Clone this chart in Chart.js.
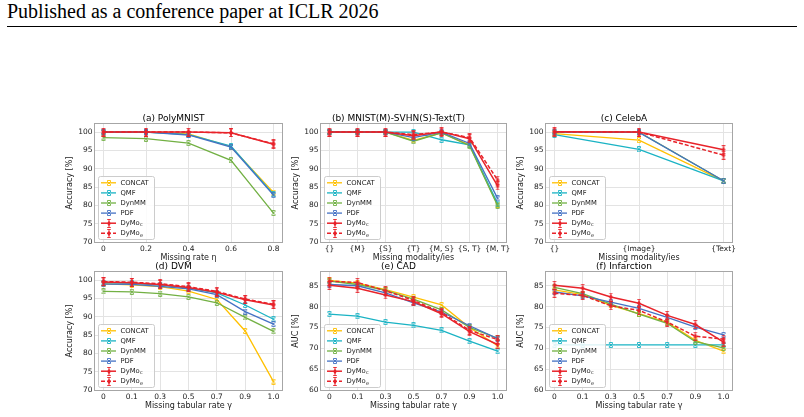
<!DOCTYPE html>
<html><head><meta charset="utf-8">
<script src="https://cdn.jsdelivr.net/npm/chart.js@4.4.1/dist/chart.umd.min.js"></script>
<style>
body{margin:0;background:#fff;width:804px;height:417px;overflow:hidden;position:relative;font-family:"DejaVu Sans";}
#hdr{position:absolute;left:7px;top:1px;font-family:"Liberation Serif";font-size:20px;line-height:20px;color:#000;white-space:nowrap;}
#rule{position:absolute;left:7px;top:26px;width:790px;height:0;border-top:1px solid #000;}
.cv{position:absolute;}
</style></head><body>
<div id="hdr">Published as a conference paper at ICLR 2026</div>
<div id="rule"></div>
<script>
// ---------- data ----------
const seriesNames = ['CONCAT','QMF','DynMM','PDF','DyMo_c','DyMo_e'];
const xLabelsA = ['0','0.2','0.4','0.6','0.8'];
const xLabelsB = ['{}','{M}','{S}','{T}','{M, S}','{S, T}','{M, T}'];
const xLabelsC = ['{}','{Image}','{Text}'];
const xLabelsTab = ['0','0.1','0.3','0.5','0.7','0.9','1.0'];

// (a) PolyMNIST
const polyCONCAT = [100,100,99.5,96.0,83.5];
const polyQMF    = [100,100,99.3,96.2,83.0];
const polyDynMM  = [98.5,98.2,97.0,92.3,77.9];
const polyPDF    = [100,100,99.2,95.9,82.8];
const polyDyMoC  = [100,100,100,99.8,96.7];
const polyDyMoE  = [100,100,100,99.8,96.8];
// (b) MNIST-SVHN-Text
const mstCONCAT = [100,100,100,97.7,99.8,96.5,80.2];
const mstQMF    = [100,100,100,100,97.9,96.5,80.5];
const mstDynMM  = [100,100,100,97.5,99.8,96.3,79.9];
const mstPDF    = [100,100,100,98.5,100,96.9,81.9];
const mstDyMoC  = [100,100,100,99.0,100.1,98.2,85.3];
const mstDyMoE  = [100,100,100,99.3,100,98.5,86.9];
// (c) CelebA
const celebCONCAT = [99.6,97.8,86.7];
const celebQMF    = [99.3,95.3,86.7];
const celebDynMM  = [100,100,86.7];
const celebPDF    = [100,99.9,86.7];
const celebDyMoC  = [100.1,100,95.2];
const celebDyMoE  = [100,100,93.7];
// (d) DVM
const dvmCONCAT = [99.0,98.7,98.2,97.0,94.7,86.1,72.3];
const dvmQMF    = [99.3,99.1,98.6,97.8,96.5,93.2,89.3];
const dvmDynMM  = [96.9,96.8,96.3,95.4,93.8,89.8,86.0];
const dvmPDF    = [98.9,98.8,98.3,97.6,96.0,91.4,88.0];
const dvmDyMoC  = [99.5,99.3,98.8,98.0,96.7,94.6,93.2];
const dvmDyMoE  = [99.6,99.4,99.0,98.2,96.9,94.8,93.4];
// (e) CAD
const cadCONCAT = [86.3,85.6,84.1,82.3,80.4,75.0,70.6];
const cadQMF    = [78.2,77.7,76.3,75.5,74.3,71.7,69.3];
const cadDynMM  = [86.1,85.3,83.9,81.8,79.2,75.0,72.4];
const cadPDF    = [85.3,85.0,83.3,80.9,78.7,75.4,72.3];
const cadDyMoC  = [85.1,84.4,82.8,81.2,78.3,74.0,70.9];
const cadDyMoE  = [86.1,85.8,83.8,81.5,78.6,74.3,72.1];
// (f) Infarction
const infCONCAT = [84.0,82.9,80.3,78.3,76.2,71.9,69.3];
const infQMF    = [70.8,70.8,70.8,70.8,70.8,70.8,70.8];
const infDynMM  = [84.6,83.1,80.6,78.2,76.0,71.6,70.1];
const infPDF    = [83.5,82.6,81.1,79.6,77.4,75.1,73.2];
const infDyMoC  = [85.1,84.4,82.3,80.8,77.9,75.7,71.5];
const infDyMoE  = [83.2,82.7,80.2,79.1,76.3,72.9,72.2];

// ---------- styling ----------
const colors = ['#FFC000','#1AB3C4','#72B043','#4472C4','#E8232A','#E8232A'];
const FONT = 'DejaVu Sans';

function mk(kind,color){
  const c=document.createElement('canvas');
  const g=c.getContext('2d');
  if(kind==='x'){
    c.width=6;c.height=6;
    g.strokeStyle=color;g.lineWidth=0.9;g.beginPath();
    g.moveTo(1,1);g.lineTo(5,5);g.moveTo(5,1);g.lineTo(1,5);
    g.moveTo(1.2,0.5);g.lineTo(4.8,0.5);g.moveTo(1.2,5.5);g.lineTo(4.8,5.5);
    g.stroke();
  } else {
    c.width=6;c.height=9;
    g.fillStyle=color;g.beginPath();
    g.moveTo(3,1.8);g.lineTo(4.9,4.5);g.lineTo(3,7.2);g.lineTo(1.1,4.5);g.closePath();g.fill();
    g.strokeStyle=color;g.lineWidth=0.9;g.beginPath();
    g.moveTo(3,0.5);g.lineTo(3,8.5);
    g.moveTo(1.2,0.5);g.lineTo(4.8,0.5);g.moveTo(1.2,8.5);g.lineTo(4.8,8.5);
    g.stroke();
  }
  return c;
}
const markers = colors.map((c,i)=>mk(i>=4?'d':'x',c));

const frameLegend = {
  id:'frameLegend',
  afterDraw(chart){
    const {ctx, chartArea:ca} = chart;
    ctx.save();
    ctx.strokeStyle='#a6a6a6';ctx.lineWidth=1;ctx.setLineDash([]);
    ctx.strokeRect(ca.left-0.5, ca.top-0.5, ca.right-ca.left+1, ca.bottom-ca.top+1);
    const bw=56, bh=63;
    const bx=ca.left+3, by=ca.bottom-3-bh;
    ctx.fillStyle='rgba(255,255,255,0.85)';
    ctx.strokeStyle='#cccccc';
    ctx.beginPath();
    if(ctx.roundRect) ctx.roundRect(bx+0.5,by+0.5,bw,bh,2); else ctx.rect(bx+0.5,by+0.5,bw,bh);
    ctx.fill();ctx.stroke();
    chart.data.datasets.forEach((ds,i)=>{
      const y=by+6.8+i*10.1;
      ctx.strokeStyle=ds.borderColor;ctx.lineWidth=ds.borderWidth;
      ctx.setLineDash(ds.borderDash||[]);
      ctx.beginPath();ctx.moveTo(bx+3,y);ctx.lineTo(bx+18,y);ctx.stroke();
      ctx.setLineDash([]);
      const im=markers[i];
      ctx.drawImage(im, Math.round(bx+10.5-im.width/2), Math.round(y-im.height/2));
      ctx.fillStyle='#1a1a1a';ctx.textBaseline='middle';ctx.textAlign='left';
      const lbl=ds.label;
      if(lbl.indexOf('_')>0){
        const [base,sub]=lbl.split('_');
        ctx.font='6.8px "'+FONT+'"';
        ctx.fillText(base,bx+22.5,y);
        const w=ctx.measureText(base).width;
        ctx.font='5px "'+FONT+'"';
        ctx.fillText(sub,bx+22.8+w,y+2);
      } else {
        ctx.font='6.8px "'+FONT+'"';
        ctx.fillText(lbl,bx+22.5,y);
      }
    });
    ctx.restore();
  }
};

const panels = [
  {L:95, T:124,R:282,B:242,title:'(a) PolyMNIST',xTitle:'Missing rate η',yTitle:'Accuracy [%]',labels:xLabelsA,yMin:70,yMax:102.2,
   series:[polyCONCAT,polyQMF,polyDynMM,polyPDF,polyDyMoC,polyDyMoE]},
  {L:321,T:124,R:506,B:242,title:'(b) MNIST(M)-SVHN(S)-Text(T)',xTitle:'Missing modality/ies',yTitle:'Accuracy [%]',labels:xLabelsB,yMin:70,yMax:102.2,
   series:[mstCONCAT,mstQMF,mstDynMM,mstPDF,mstDyMoC,mstDyMoE]},
  {L:546,T:124,R:732,B:242,title:'(c) CelebA',xTitle:'Missing modality/ies',yTitle:'Accuracy [%]',labels:xLabelsC,yMin:70,yMax:102.2,
   series:[celebCONCAT,celebQMF,celebDynMM,celebPDF,celebDyMoC,celebDyMoE]},
  {L:95, T:272,R:282,B:390,title:'(d) DVM',xTitle:'Missing tabular rate γ',yTitle:'Accuracy [%]',labels:xLabelsTab,yMin:70,yMax:102.2,
   series:[dvmCONCAT,dvmQMF,dvmDynMM,dvmPDF,dvmDyMoC,dvmDyMoE]},
  {L:321,T:272,R:506,B:390,title:'(e) CAD',xTitle:'Missing tabular rate γ',yTitle:'AUC [%]',labels:xLabelsTab,yMin:60,yMax:88.3,
   series:[cadCONCAT,cadQMF,cadDynMM,cadPDF,cadDyMoC,cadDyMoE]},
  {L:546,T:272,R:732,B:390,title:'(f) Infarction',xTitle:'Missing tabular rate γ',yTitle:'AUC [%]',labels:xLabelsTab,yMin:60,yMax:88.3,
   series:[infCONCAT,infQMF,infDynMM,infPDF,infDyMoC,infDyMoE]},
];

const YW=30, XH=21, TH=13, RP=14;
panels.forEach(p=>{
  const cv=document.createElement('canvas');
  const left=p.L-YW, top=p.T-TH, w=(p.R-p.L)+YW+RP, h=(p.B-p.T)+TH+XH;
  cv.width=w;cv.height=h;cv.className='cv';
  cv.style.left=left+'px';cv.style.top=top+'px';cv.style.width=w+'px';cv.style.height=h+'px';
  document.body.appendChild(cv);
  const n=p.labels.length, m=(n-1)*0.05;
  new Chart(cv,{
    type:'line',
    data:{datasets:seriesNames.map((nm,i)=>({
      label:nm,
      data:p.series[i].map((v,j)=>({x:j,y:v})),
      borderColor:colors[i],backgroundColor:colors[i],
      borderWidth:i>=4?1.5:1.3,
      borderDash:i===5?[4,2]:[],
      pointStyle:markers[i],pointRadius:3,
      order:5-i,fill:false,tension:0
    }))},
    options:{
      responsive:false,animation:false,
      layout:{padding:{left:0,right:RP,top:0,bottom:0}},
      plugins:{
        legend:{display:false},tooltip:{enabled:false},
        title:{display:true,text:p.title,color:'#000',font:{family:FONT,size:9,weight:'normal'},padding:{top:2.2,bottom:0}}
      },
      scales:{
        x:{type:'linear',min:-m,max:n-1+m,
           afterBuildTicks:s=>{s.ticks=p.labels.map((_,j)=>({value:j}));},
           afterFit:s=>{s.height=XH;},
           grid:{color:'#e3e3e3',lineWidth:1,drawTicks:false},
           border:{display:false},
           ticks:{autoSkip:false,maxRotation:0,padding:2.5,color:'#1a1a1a',font:{family:FONT,size:7.5},
                  callback:(v,idx)=>p.labels[idx]},
           title:{display:true,text:p.xTitle,color:'#1a1a1a',font:{family:FONT,size:8},padding:{top:0,bottom:0}}},
        y:{min:p.yMin,max:p.yMax,
           afterFit:s=>{s.width=YW;},
           grid:{color:'#e3e3e3',lineWidth:1,drawTicks:false},
           border:{display:false},
           ticks:{stepSize:5,includeBounds:false,padding:2.5,color:'#1a1a1a',font:{family:FONT,size:7.5}},
           title:{display:true,text:p.yTitle,color:'#1a1a1a',font:{family:FONT,size:8},padding:{top:0.5,bottom:0}}}
      }
    },
    plugins:[frameLegend]
  });
});
</script>
</body></html>
